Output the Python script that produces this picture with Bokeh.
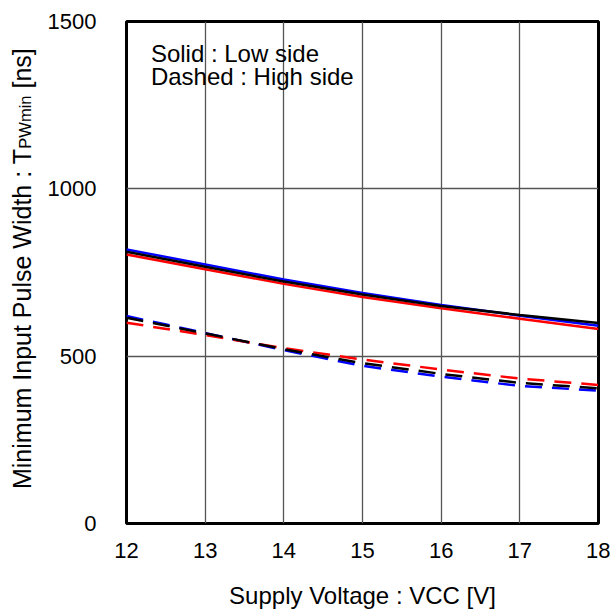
import math
from bokeh.plotting import figure
from bokeh.layouts import row
from bokeh.models import Range1d, Label, FixedTicker
from bokeh.embed import file_html
from bokeh.resources import INLINE

# ---- data ----
vcc = [12, 13, 14, 15, 16, 17, 18]
low_black = [812, 767, 723, 684, 650, 623, 599]
low_blue = [819, 774, 729, 689, 653, 621, 591]
low_red = [804, 760, 716, 677, 643, 612, 581]
high_black = [615, 568, 521, 479, 447, 420, 404]
high_blue = [620, 569, 518, 471, 439, 411, 397]
high_red = [600, 563, 524, 490, 460, 433, 414]
x_ticks = [12, 13, 14, 15, 16, 17, 18]
y_ticks = [0, 500, 1000, 1500]

FONT = "Liberation Sans"
LABEL_W = 44
TOTAL_H = 614
PX_PER_UNIT = 502 / 1500.0   # frame height / y span

yr = Range1d(0, 1500)
p = figure(width=610 - LABEL_W, height=TOTAL_H, output_backend="svg",
           toolbar_location=None, title=None, x_range=Range1d(12, 18),
           y_range=yr, min_border_left=124 - LABEL_W, min_border_right=12,
           min_border_top=21, min_border_bottom=91)
p.background_fill_color = "white"
p.border_fill_color = "white"
p.outline_line_color = "black"
p.outline_line_width = 3

for ax in (p.xaxis[0], p.yaxis[0]):
    ax.axis_line_color = None
    ax.major_tick_line_color = None
    ax.minor_tick_line_color = None
    ax.major_label_text_font = FONT
    ax.major_label_text_font_size = "22px"
    ax.major_label_text_color = "black"

p.xaxis.ticker = FixedTicker(ticks=x_ticks)
p.yaxis.ticker = FixedTicker(ticks=y_ticks)
p.xaxis.major_label_standoff = 13
p.yaxis.major_label_standoff = 24
p.xaxis.axis_label = "Supply Voltage : VCC [V]"
p.xaxis.axis_label_text_font = FONT
p.xaxis.axis_label_text_font_size = "24px"
p.xaxis.axis_label_text_font_style = "normal"
p.xaxis.axis_label_text_color = "black"
p.xaxis.axis_label_standoff = 21

p.grid.grid_line_color = "#555555"
p.grid.grid_line_width = 1.3

# series
DASH = "17 10"
W = 2.5
p.line(vcc, low_blue, color="#0000ff", line_width=W)
p.line(vcc, low_red, color="#ff0000", line_width=W)
p.line(vcc, low_black, color="black", line_width=W)
p.line(vcc, high_blue, color="#0000ff", line_width=W, line_dash=DASH)
p.line(vcc, high_red, color="#ff0000", line_width=W, line_dash=DASH)
p.line(vcc, high_black, color="black", line_width=W, line_dash=DASH)

# legend text
for txt, yy in (("Solid : Low side", 1405), ("Dashed : High side", 1336)):
    p.add_layout(Label(x=12.31, y=yy, text=txt, text_font=FONT,
                       text_font_size="24px", text_color="black",
                       text_align="left", text_baseline="alphabetic"))

# y axis title (with subscript) in a narrow side figure sharing the y scale
lab = figure(width=LABEL_W, height=TOTAL_H, output_backend="svg",
             toolbar_location=None, title=None,
             x_range=Range1d(0, LABEL_W), y_range=yr,
             x_axis_location=None, y_axis_location=None,
             min_border_left=0, min_border_right=0, min_border_top=21,
             min_border_bottom=91)
lab.outline_line_color = None
lab.grid.visible = False
lab.background_fill_color = "white"
lab.border_fill_color = "white"

# (text, font px, text width in em)
parts = [("Minimum Input Pulse Width : T", 25, 13.615),
         ("PWmin", 16.5, 3.222),
         ("[ns]", 25, 1.612)]
gaps_before = [0.0, 0.0, 0.278 * 25]
start = 103.0
for (txt, fs, em), gap in zip(parts, gaps_before):
    start += gap / PX_PER_UNIT
    lab.add_layout(Label(x=30 - fs / 3.0, y=start, text=txt, angle=math.pi / 2,
                         text_font=FONT, text_font_size=f"{fs}px",
                         text_color="black", text_align="left",
                         text_baseline="alphabetic"))
    start += em * fs / PX_PER_UNIT

layout = row(lab, p, spacing=0)
open("out.html", "w").write(file_html(layout, INLINE))
